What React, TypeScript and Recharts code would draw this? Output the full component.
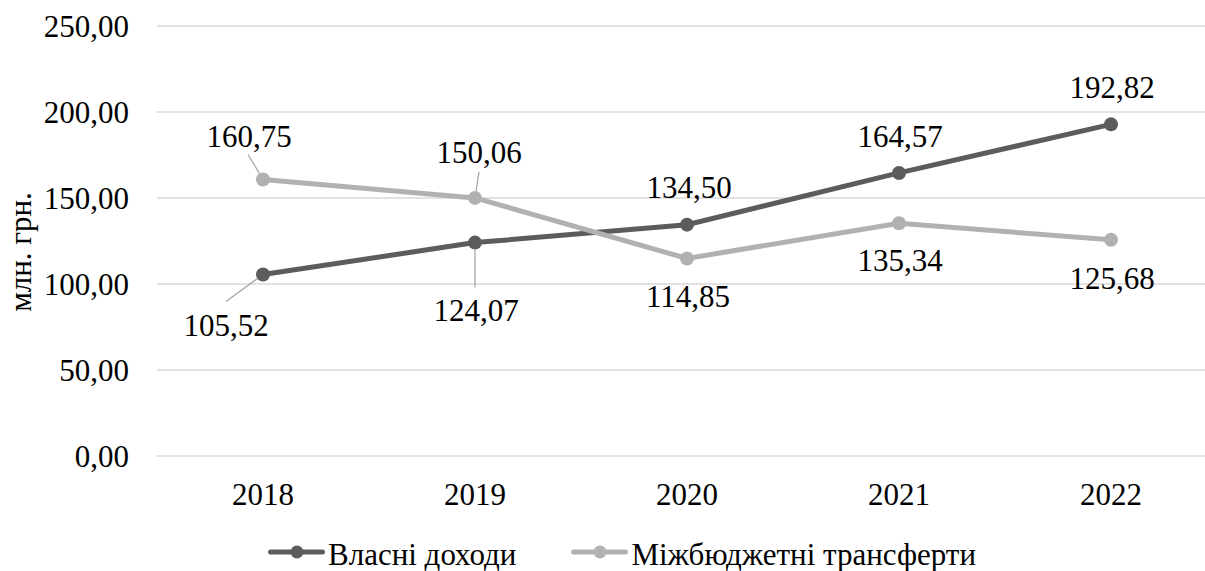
import { LineChart, Line, XAxis, YAxis, CartesianGrid, LabelList, Label } from "recharts";

const years = ["2018", "2019", "2020", "2021", "2022"];
const ownRevenue = [105.52, 124.07, 134.5, 164.57, 192.82];
const transfers = [160.75, 150.06, 114.85, 135.34, 125.68];
const yTicks = [0, 50, 100, 150, 200, 250];

const ownName = "Власні доходи";
const transfersName = "Міжбюджетні трансферти";
const yTitle = "млн. грн.";

const data = years.map((year, i) => ({
  year,
  own: ownRevenue[i],
  transfers: transfers[i],
}));

const FONT = "Liberation Serif";
const DARK = "#5c5c5c";
const LIGHT = "#b1b1b1";

// where each value label sits relative to its dot; leader = start of the callout line
type Placement = { dx: number; dy: number; leader?: [number, number] };
const ownPlacement: Placement[] = [
  { dx: -37, dy: 51, leader: [-37, 27] },
  { dx: 1, dy: 68, leader: [0, 45] },
  { dx: 2, dy: -37 },
  { dx: 1, dy: -36 },
  { dx: 1, dy: -36 },
];
const transfersPlacement: Placement[] = [
  { dx: -14, dy: -43, leader: [-15, -25] },
  { dx: 4, dy: -45, leader: [4, -26] },
  { dx: 1, dy: 39 },
  { dx: 1, dy: 38 },
  { dx: 1, dy: 39 },
];

const fmt = (v: number) => v.toFixed(2).replace(".", ",");

const makeLabel = (placements: Placement[]) => (props: any) => {
  const { x, y, value, index } = props;
  const p = placements[index];
  if (!p || x == null || y == null) return null;
  let leader = null;
  if (p.leader) {
    const [lx, ly] = p.leader;
    const len = Math.hypot(lx, ly) || 1;
    const r = 7;
    leader = (
      <line
        x1={x + lx}
        y1={y + ly}
        x2={x + (lx / len) * r}
        y2={y + (ly / len) * r}
        stroke="#a6a6a6"
        strokeWidth={1.3}
      />
    );
  }
  return (
    <g>
      {leader}
      <text
        x={x + p.dx}
        y={y + p.dy + 10}
        textAnchor="middle"
        style={{ fontFamily: FONT }}
        fontSize={31}
        fill="#000"
      >
        {fmt(Number(value))}
      </text>
    </g>
  );
};

const XTick = (props: any) => {
  const { x, y, payload } = props;
  return (
    <text x={x} y={y + 49} textAnchor="middle" style={{ fontFamily: FONT }} fontSize={31} fill="#000">
      {payload.value}
    </text>
  );
};

const YTick = (props: any) => {
  const { x, y, payload } = props;
  return (
    <text x={x - 28} y={y + 11} textAnchor="end" style={{ fontFamily: FONT }} fontSize={31} fill="#000">
      {fmt(Number(payload.value))}
    </text>
  );
};

const LegendIcon = ({ color }: { color: string }) => (
  <svg width={57} height={16} style={{ display: "block", position: "relative", top: -3 }}>
    <line x1={2.5} y1={8} x2={54.5} y2={8} stroke={color} strokeWidth={5} strokeLinecap="round" />
    <circle cx={29} cy={8} r={6.5} fill={color} />
  </svg>
);

export default function App() {
  return (
    <div
      style={{
        position: "absolute",
        left: 0,
        top: 0,
        width: 1205,
        height: 571,
        overflow: "hidden",
        background: "#fff",
        fontFamily: FONT,
      }}
    >
      <LineChart
        width={1230}
        height={571}
        data={data}
        margin={{ top: 26, right: 13, left: 0, bottom: 65 }}
      >
        <CartesianGrid vertical={false} stroke="#d9d9d9" strokeWidth={1.5} />
        <XAxis
          dataKey="year"
          axisLine={false}
          tickLine={false}
          tickSize={0}
          tickMargin={0}
          height={50}
          padding={{ left: 106, right: 106 }}
          tick={<XTick />}
          interval={0}
        />
        <YAxis
          domain={[0, 250]}
          ticks={yTicks}
          axisLine={false}
          tickLine={false}
          tickSize={0}
          tickMargin={0}
          width={157}
          tick={<YTick />}
        >
          <Label
            content={(props: any) => {
              const vb = props.viewBox || {};
              const cx = (vb.x ?? 0) + 31;
              const cy = (vb.y ?? 0) + (vb.height ?? 0) / 2 + 11;
              return (
                <text
                  x={cx}
                  y={cy}
                  transform={`rotate(-90 ${cx} ${cy})`}
                  textAnchor="middle"
                  style={{ fontFamily: FONT }}
                  fontSize={31}
                  fill="#000"
                >
                  {yTitle}
                </text>
              );
            }}
          />
        </YAxis>
        <Line
          dataKey="own"
          name={ownName}
          stroke={DARK}
          strokeWidth={5}
          dot={{ r: 7, fill: DARK, stroke: DARK, strokeWidth: 0 }}
          isAnimationActive={false}
        >
          <LabelList dataKey="own" content={makeLabel(ownPlacement)} />
        </Line>
        <Line
          dataKey="transfers"
          name={transfersName}
          stroke={LIGHT}
          strokeWidth={5}
          dot={{ r: 7, fill: LIGHT, stroke: LIGHT, strokeWidth: 0 }}
          isAnimationActive={false}
        >
          <LabelList dataKey="transfers" content={makeLabel(transfersPlacement)} />
        </Line>
      </LineChart>
      <div
        style={{
          position: "absolute",
          left: 268,
          top: 537,
          display: "flex",
          alignItems: "center",
          fontSize: 31,
          lineHeight: "36px",
          color: "#000",
          whiteSpace: "nowrap",
        }}
      >
        <LegendIcon color={DARK} />
        <span style={{ marginLeft: 3 }}>{ownName}</span>
        <span style={{ width: 55 }} />
        <LegendIcon color={LIGHT} />
        <span style={{ marginLeft: 3 }}>{transfersName}</span>
      </div>
    </div>
  );
}
